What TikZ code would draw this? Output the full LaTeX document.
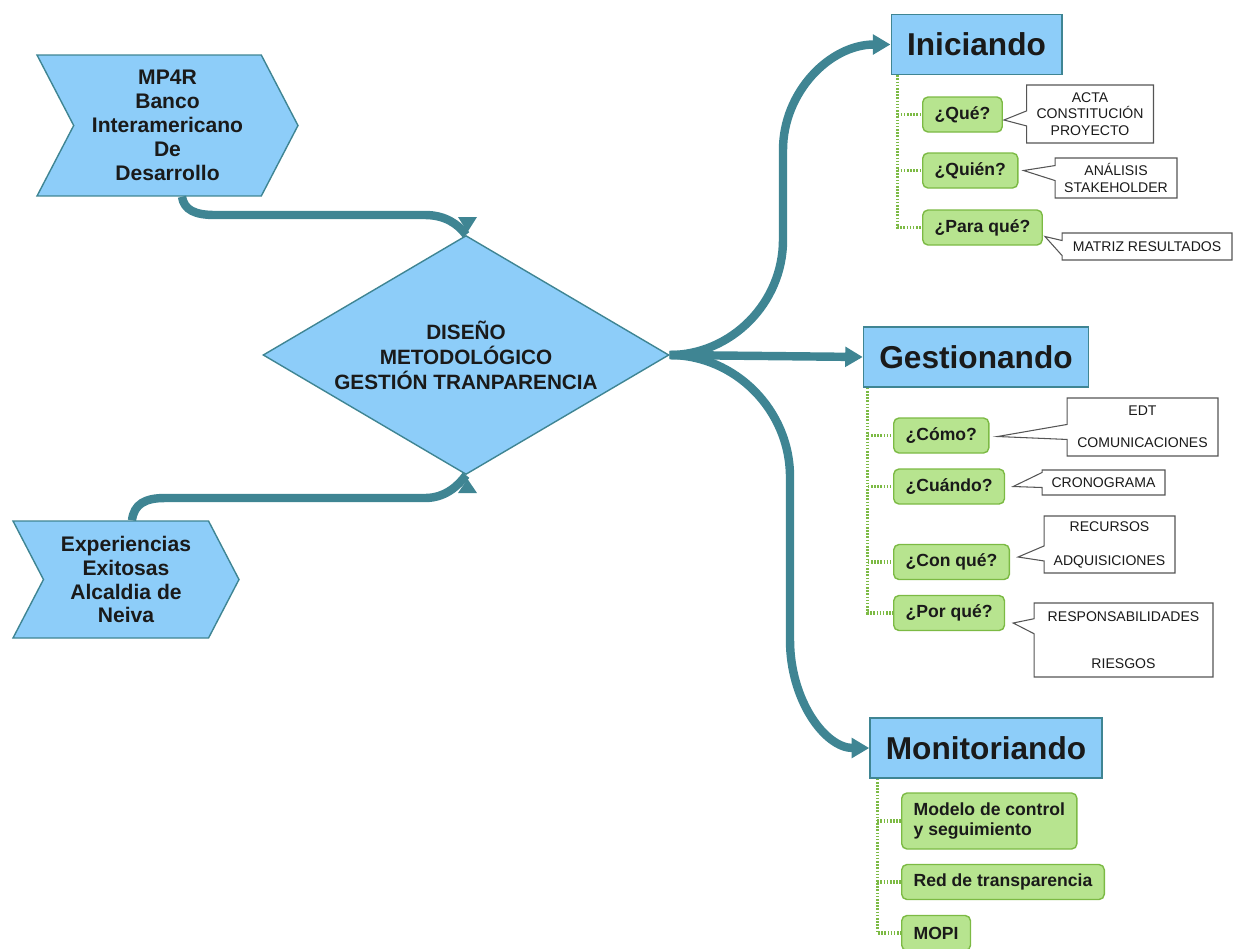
\documentclass[tikz,border=0pt]{standalone}
\usepackage{fontspec}
\setmainfont{Liberation Sans}
\usetikzlibrary{positioning,shapes.geometric,shapes.symbols,shapes.callouts,arrows.meta}
\definecolor{skyfill}{HTML}{8DCDF9}
\definecolor{tealline}{HTML}{3F8593}
\definecolor{leaffill}{HTML}{B7E48F}
\definecolor{leafline}{HTML}{7CBA44}
\definecolor{notegray}{HTML}{555555}
\definecolor{ink}{HTML}{1A1A1A}

\begin{document}
\begin{tikzpicture}[x = .02cm, y = -.02cm,
  src/.style = {shape = signal, signal from = west, signal to = east, signal pointer angle = 125, fill = skyfill, draw = tealline, line width = .8pt, inner sep = 0pt, align = center, text = ink, font = \bfseries\fontsize{12}{13.6}\selectfont},
  hub/.style = {diamond, aspect = 1.7, fill = skyfill, draw = tealline, line width = .8pt, inner sep = 0pt, minimum width = 8.12cm, minimum height = 4.78cm, align = center, text = ink, font = \bfseries\fontsize{11.8}{14.2}\selectfont},
  stage/.style = {rectangle, fill = skyfill, draw = tealline, line width = .9pt, inner xsep = 9pt, minimum height = 1.2cm, text = ink, font = \bfseries\fontsize{18}{22}\selectfont},
  leaf/.style = {rectangle, rounded corners = 3pt, fill = leaffill, draw = leafline, line width = .8pt, anchor = west, inner xsep = 6.8pt, minimum height = .7cm, text = ink, font = \bfseries\fontsize{10}{11.3}\selectfont},
  note/.style = {rectangle callout, fill = white, draw = notegray, line width = .6pt, callout pointer width = .3cm, inner sep = 2pt, align = center, text = ink, font = \fontsize{8}{9.4}\selectfont},
  link/.style = {draw = tealline, line width = 4.8pt},
  tip/.style = {-{Triangle[length = 10pt, width = 11pt]}},
  twig/.style = {draw = leafline, line width = 1.9pt, dash pattern = on .9pt off .9pt}]
\useasboundingbox (0,0) rectangle (1233,948);

\node[src, minimum width = 5.22cm, minimum height = 2.82cm] (mpr) at (167.5,125.5) {MP4R\\Banco\\Interamericano\\De\\Desarrollo};
\node[src, minimum width = 4.52cm, minimum height = 2.34cm] (exp) at (126,579.5) {Experiencias\\Exitosas\\Alcaldia de\\Neiva};
\node[hub] (dia) at (466,355) {DISEÑO\\METODOLÓGICO\\GESTIÓN TRANPARENCIA};

\draw[link] ([xshift = .29cm]mpr.south) .. controls (184,210) and (195,215) .. (215,215) -- (425,215) .. controls (445,215) and (458,224) .. (dia.north);
\draw[link] ([xshift = .12cm]exp.north) .. controls (134,504) and (145,498) .. (165,498) -- (425,498) .. controls (445,498) and (458,486) .. (dia.south);
\fill[tealline] (458,217) -- (477,217) -- (467.5,232) -- cycle;
\fill[tealline] (458,493) -- (477,493) -- (467.5,479) -- cycle;

\node[stage] (ini) at (976.5,44.5) {Iniciando};
\node[stage] (ges) at (976,357) {Gestionando};
\node[stage] (mon) at (986,748) {Monitoriando};

\draw[link, tip] (dia.east) .. controls (731,355) and (783,303) .. (783,240) -- (783,150) .. controls (783,92) and (830,44.5) .. (ini.west);
\draw[link, tip] (dia.east) -- (ges.west);
\draw[link, tip] (dia.east) .. controls (735,355) and (790,410) .. (790,477) -- (790,640) .. controls (790,700) and (825,748) .. (mon.west);

\node[leaf] (q1) at (922,114.5) {¿Qué?};
\node[leaf] (q2) at (922,170.5) {¿Quién?};
\node[leaf] (q3) at (922,227.5) {¿Para qué?};
\coordinate (it) at ([xshift = .14cm]ini.south west);
\draw[twig] (it) |- (q3.west);
\foreach \q in {q1,q2}
  \draw[twig] (it |- \q.west) -- (\q.west);

\node[note, minimum width = 2.54cm, minimum height = 1.16cm, callout absolute pointer = {([shift = {(1,5.5)}]q1.east)}] (n1) at (1090,114) {ACTA\\CONSTITUCIÓN\\PROYECTO};
\node[note, minimum width = 2.44cm, minimum height = .8cm, callout absolute pointer = {([shift = {(5,0)}]q2.east)}] (n2) at (1116,178) {ANÁLISIS\\STAKEHOLDER};
\node[note, minimum width = 3.4cm, minimum height = .54cm, callout absolute pointer = {([shift = {(2,9)}]q3.east)}] (n3) at (1147,246.5) {MATRIZ RESULTADOS};

\node[leaf] (g1) at (893,435.5) {¿Cómo?};
\node[leaf] (g2) at (893,486.5) {¿Cuándo?};
\node[leaf] (g3) at (893,562) {¿Con qué?};
\node[leaf] (g4) at (893,613) {¿Por qué?};
\coordinate (gt) at ([xshift = .1cm]ges.south west);
\draw[twig] (gt) |- (g4.west);
\foreach \g in {g1,g2,g3}
  \draw[twig] (gt |- \g.west) -- (\g.west);

\node[note, minimum width = 3.02cm, minimum height = 1.16cm, callout absolute pointer = {([shift = {(8,1)}]g1.east)}] (n4) at (1142.5,427) {EDT\\[9pt]COMUNICACIONES};
\node[note, minimum width = 2.46cm, minimum height = .5cm, callout absolute pointer = {([shift = {(8,0)}]g2.east)}] (n5) at (1103.5,482.5) {CRONOGRAMA};
\node[note, minimum width = 2.62cm, minimum height = 1.14cm, callout absolute pointer = {([shift = {(8,-5)}]g3.east)}] (n6) at (1109.5,544.5) {RECURSOS\\[10pt]ADQUISICIONES};
\node[note, minimum width = 3.58cm, minimum height = 1.48cm, callout absolute pointer = {([shift = {(8,10)}]g4.east)}] (n7) at (1123.5,640) {RESPONSABILIDADES\\[17.5pt]RIESGOS};

\node[leaf, align = left, minimum height = 1.12cm] (m1) at (901,821) {Modelo de control\\y seguimiento};
\node[leaf] (m2) at (901,882) {Red de transparencia};
\node[leaf] (m3) at (901,933) {MOPI};
\coordinate (mt) at ([xshift = .16cm]mon.south west);
\draw[twig] (mt) |- (m3.west);
\foreach \m in {m1,m2}
  \draw[twig] (mt |- \m.west) -- (\m.west);
\end{tikzpicture}
\end{document}
